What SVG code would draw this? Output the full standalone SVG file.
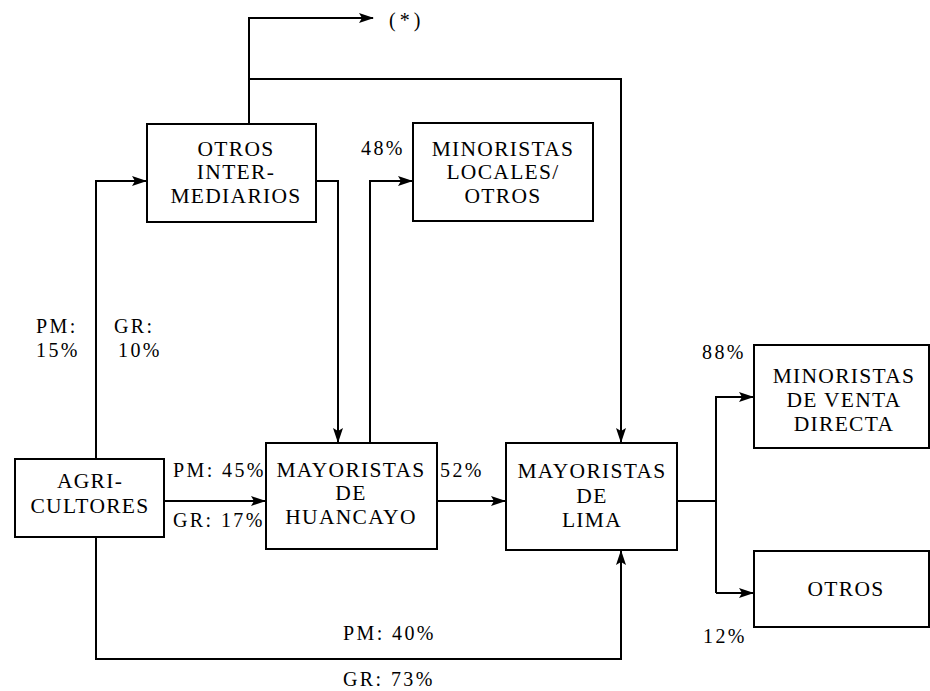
<svg xmlns="http://www.w3.org/2000/svg" width="930" height="691" viewBox="0 0 930 691">
<style>
.box{fill:#fff;stroke:#000;stroke-width:2}
.ln{fill:none;stroke:#000;stroke-width:2}
.bt{font-family:'Liberation Serif','Times New Roman',serif;font-size:21.5px;letter-spacing:1.3px;text-anchor:middle;fill:#000}
.lb{font-family:'Liberation Serif','Times New Roman',serif;font-size:20px;letter-spacing:2.4px;fill:#000}
</style>
<defs>
<marker id="ah" viewBox="0 0 15 10" refX="14" refY="5" markerWidth="15" markerHeight="10" markerUnits="userSpaceOnUse" orient="auto">
<path d="M0,0 L15,5 L0,10 L3,5 Z" fill="#000"/>
</marker>
</defs>
<g id="connectors">
<path class="ln" d="M249,124 V18 H373" marker-end="url(#ah)"/>
<path class="ln" d="M249,79 H621 V442" marker-end="url(#ah)"/>
<path class="ln" d="M96,459 V181 H146" marker-end="url(#ah)"/>
<path class="ln" d="M316,181 H338 V442" marker-end="url(#ah)"/>
<path class="ln" d="M370,443 V181 H412" marker-end="url(#ah)"/>
<path class="ln" d="M164,501 H265" marker-end="url(#ah)"/>
<path class="ln" d="M437,501 H505" marker-end="url(#ah)"/>
<path class="ln" d="M96,537 V659 H621 V551" marker-end="url(#ah)"/>
<path class="ln" d="M677,501 H716"/>
<path class="ln" d="M716,593 V397 H753" marker-end="url(#ah)"/>
<path class="ln" d="M716,593 H753" marker-end="url(#ah)"/>
</g>
<g id="otros-intermediarios">
<rect class="box" x="147" y="124" width="169" height="98"/>
<text class="bt" x="236" y="156">OTROS</text>
<text class="bt" x="236" y="179">INTER-</text>
<text class="bt" x="236" y="203">MEDIARIOS</text>
</g>
<g id="minoristas-locales">
<rect class="box" x="413" y="123" width="180" height="98"/>
<text class="bt" x="503" y="156">MINORISTAS</text>
<text class="bt" x="503" y="179">LOCALES/</text>
<text class="bt" x="503" y="203">OTROS</text>
</g>
<g id="agricultores">
<rect class="box" x="15" y="459" width="149" height="78"/>
<text class="bt" x="90" y="488">AGRI-</text>
<text class="bt" x="90" y="513">CULTORES</text>
</g>
<g id="mayoristas-huancayo">
<rect class="box" x="266" y="443" width="171" height="106"/>
<text class="bt" x="351" y="477">MAYORISTAS</text>
<text class="bt" x="351" y="500">DE</text>
<text class="bt" x="351" y="524">HUANCAYO</text>
</g>
<g id="mayoristas-lima">
<rect class="box" x="506" y="443" width="171" height="107"/>
<text class="bt" x="592" y="478">MAYORISTAS</text>
<text class="bt" x="592" y="503">DE</text>
<text class="bt" x="592" y="527">LIMA</text>
</g>
<g id="minoristas-venta-directa">
<rect class="box" x="754" y="345" width="175" height="103"/>
<text class="bt" x="844" y="383">MINORISTAS</text>
<text class="bt" x="844" y="407">DE VENTA</text>
<text class="bt" x="844" y="431">DIRECTA</text>
</g>
<g id="otros">
<rect class="box" x="754" y="551" width="175" height="76"/>
<text class="bt" x="846" y="596">OTROS</text>
</g>
<g id="labels">
<text class="lb" x="389" y="27" style="letter-spacing:4px">(*)</text>
<text class="lb" x="361" y="155">48%</text>
<text class="lb" x="36" y="333">PM:</text>
<text class="lb" x="36" y="357">15%</text>
<text class="lb" x="114" y="333">GR:</text>
<text class="lb" x="118" y="357">10%</text>
<text class="lb" x="173" y="477">PM: 45%</text>
<text class="lb" x="173" y="527">GR: 17%</text>
<text class="lb" x="440" y="477">52%</text>
<text class="lb" x="343" y="640">PM: 40%</text>
<text class="lb" x="343" y="686">GR: 73%</text>
<text class="lb" x="702" y="359">88%</text>
<text class="lb" x="703" y="643">12%</text>
</g>
</svg>
